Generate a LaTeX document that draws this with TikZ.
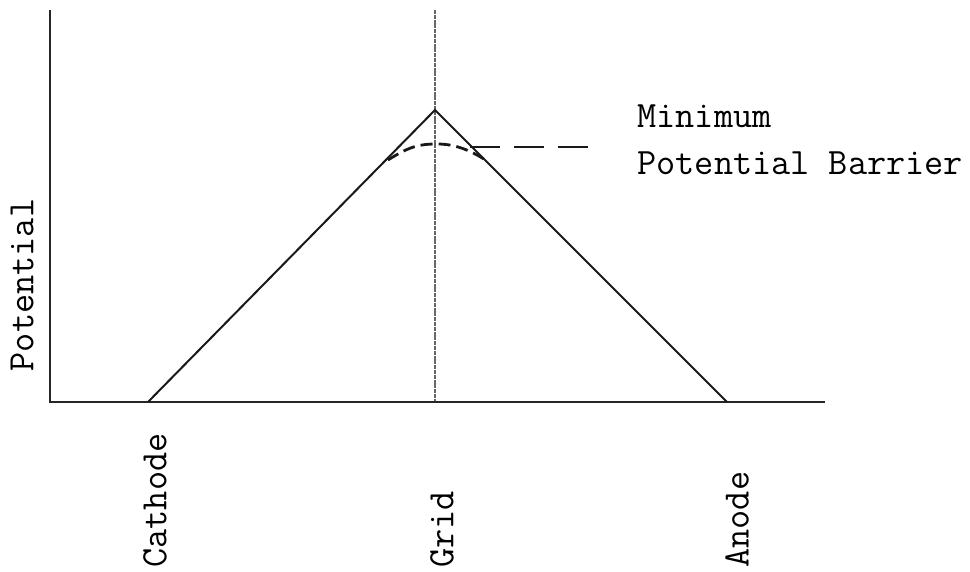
\documentclass[tikz,border=0pt]{standalone}
\usepackage{fontspec}
\usepackage{tikz}
\usetikzlibrary{positioning}

\begin{document}
\begin{tikzpicture}[
  x=0.5pt,y=-0.5pt,
  font=\ttfamily\fontsize{18.6}{22}\selectfont,
  axis/.style={line width=1.4pt,draw=black!85},
  gridline/.style={line width=0.8pt,draw=black!60,dash pattern=on 2pt off 0.4pt},
  curve/.style={line width=1pt,draw=black!90},
  barrier/.style={line width=1.4pt,draw=black!90,dash pattern=on 6pt off 3pt},
  lead/.style={line width=1.4pt,draw=black!90,dash pattern=on 15pt off 7pt},
  tick/.style={rotate=90,anchor=west,inner sep=0pt}
]
\useasboundingbox (0,0) rectangle (970,572);
\coordinate (top) at (50,10);
\coordinate (origin) at (50,402);
\coordinate (xend) at (825,402);
\coordinate (cathode) at (148,402);
\coordinate (grid) at (435,402);
\coordinate (gridtop) at (435,10);
\coordinate (peak) at (435,110);
\coordinate (anode) at (727,402);
\coordinate (bleft) at (388,160);
\coordinate (bright) at (487,161);
\coordinate (bend) at (590,147);

\draw[gridline] (gridtop) -- (grid);
\draw[axis] (top) -- (origin) -- (xend);
\draw[curve] (cathode) -- (peak) -- (anode);
\draw[barrier] (bleft) .. controls (410,146) and (420,144) .. (437,144)
  .. controls (455,144) and (470,150) .. (bright);
\draw[lead] (470,147) -- (bend);

\node[anchor=base west,inner sep=0pt] (minimum) at (637,128) {Minimum};
\node[anchor=base west,inner sep=0pt] (barrier) at (637,175) {Potential Barrier};
\node[rotate=90,inner sep=0pt] (potential) at (22,285) {Potential};
\node[tick] (cathodelbl) at (155,568) {Cathode};
\node[tick] (gridlbl) at (442,568) {Grid};
\node[tick] (anodelbl) at (737,568) {Anode};
\end{tikzpicture}
\end{document}
